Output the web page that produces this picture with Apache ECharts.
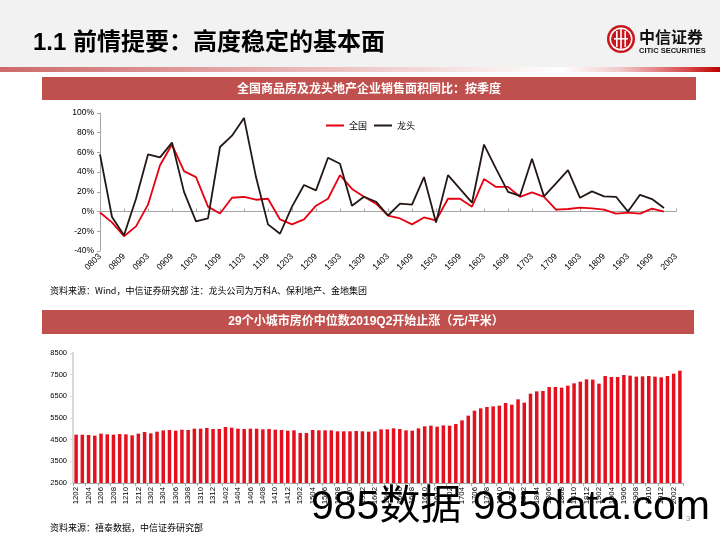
<!DOCTYPE html>
<html><head><meta charset="utf-8">
<script src="https://cdn.jsdelivr.net/npm/echarts@6/dist/echarts.min.js"></script>
<style>html,body{margin:0;padding:0;background:#fff}#c{width:720px;height:540px}</style>
</head><body><div id="c"></div>
<script>
// ---- Data ----
const quarters = ['0803','0806','0809','0812','0903','0906','0909','0912','1003','1006','1009','1012',
  '1103','1106','1109','1112','1203','1206','1209','1212','1303','1306','1309','1312',
  '1403','1406','1409','1412','1503','1506','1509','1512','1603','1606','1609','1612',
  '1703','1706','1709','1712','1803','1806','1809','1812','1903','1906','1909','1912','2003'];
const nationalYoY = [-1,-11,-25,-15,7,47,68,41,35,5,-2,14,
  15,12,13,-8,-13,-8,6,13,37,23,15,8,
  -4,-7,-13,-6,-9,13,13,5,33,25,25,15,
  19.5,15,2,2.6,4,3.3,2,-2,-1,-2,3,0,null];
const leadersYoY = [58,-5.5,-24,13,58,55,70,20,-10,-7,65.5,77,
  95,35,-13,-22.5,5,27,21.5,54.6,48.5,6,15,10,
  -4,8,7,35,-11,37,23,9,68,43.5,20,16,
  53.6,15.4,28.6,42,14,20.5,15.4,15,0,17,12.7,3.6,null];
const months = ['1202','1203','1204','1205','1206','1207','1208','1209','1210','1211','1212',
  '1301','1302','1303','1304','1305','1306','1307','1308','1309','1310','1311','1312',
  '1401','1402','1403','1404','1405','1406','1407','1408','1409','1410','1411','1412',
  '1501','1502','1503','1504','1505','1506','1507','1508','1509','1510','1511','1512',
  '1601','1602','1603','1604','1605','1606','1607','1608','1609','1610','1611','1612',
  '1701','1702','1703','1704','1705','1706','1707','1708','1709','1710','1711','1712',
  '1801','1802','1803','1804','1805','1806','1807','1808','1809','1810','1811','1812',
  '1901','1902','1903','1904','1905','1906','1907','1908','1909','1910','1911','1912',
  '2001','2002','2003'];
const medianPrice = [4730,4730,4715,4685,4777,4746,4730,4760,4746,4700,4777,4854,4792,4869,4930,4946,4915,
  4960,4946,5008,5008,5040,4992,4992,5085,5054,5008,4992,5008,5008,4977,4992,4960,
  4946,4915,4930,4808,4808,4946,4930,4930,4930,4885,4885,4885,4900,4885,4870,4885,4977,
  4977,5023,4992,4930,4915,5023,5115,5146,5100,5160,5146,5223,5392,5608,5838,5946,
  6008,6038,6070,6192,6115,6362,6208,6623,6730,6746,6930,6930,6900,6992,7100,7177,
  7285,7270,7085,7438,7392,7392,7485,7454,7408,7423,7438,7408,7377,7438,7546,7685];
const barYTicks = [2500,3500,4500,5500,6500,7500,8500];
const seriesNames = ['全国','龙头'];

// ---- Chart ----
const FONT = '"Liberation Sans","Noto Sans CJK SC",sans-serif';
const CJK = '"Noto Sans CJK SC","Liberation Sans",sans-serif';
const chart = echarts.init(document.getElementById('c'));
const AX = '#A6A6A6';
const option = {
  animation: false,
  backgroundColor: '#ffffff',
  textStyle: {fontFamily: FONT},
  grid: [
    {left: 100, top: 113, width: 576, height: 138},
    {left: 73, top: 353, width: 610, height: 130}
  ],
  legend: {
    data: seriesNames, left: 326, top: 121, padding: 0,
    icon: 'rect', itemWidth: 18, itemHeight: 2, itemGap: 7,
    textStyle: {fontSize: 9, color: '#000', fontFamily: CJK}
  },
  xAxis: [
    {gridIndex: 0, type: 'category', data: quarters, boundaryGap: false,
     axisLine: {show: false, onZero: false}, axisTick: {show: false},
     axisLabel: {interval: 1, rotate: 45, fontSize: 8.8, color: '#000', margin: 4}},
    {gridIndex: 0, type: 'category', data: quarters, boundaryGap: false,
     axisLine: {show: true, onZero: true, onZeroAxisIndex: 0, lineStyle: {color: AX, width: 1}},
     axisTick: {show: true, interval: 1, length: 3, lineStyle: {color: AX}},
     axisLabel: {show: false}},
    {gridIndex: 1, type: 'category', data: months,
     axisLine: {lineStyle: {color: AX, width: 1}},
     axisTick: {show: true, interval: 1, length: 3, lineStyle: {color: AX}},
     axisLabel: {interval: 1, rotate: 90, fontSize: 7.8, color: '#000', margin: 4}}
  ],
  yAxis: [
    {gridIndex: 0, type: 'value', min: -40, max: 100, interval: 20,
     axisLabel: {formatter: '{value}%', fontSize: 8.5, color: '#000', margin: 6},
     axisLine: {show: true, lineStyle: {color: AX}},
     axisTick: {show: true, length: 3, lineStyle: {color: AX}},
     splitLine: {show: false}},
    {gridIndex: 1, type: 'value', min: 2500, max: 8500, interval: 500,
     axisLabel: {customValues: barYTicks, fontSize: 7.5, color: '#000', margin: 6,
       formatter: v => ((v - 2500) % 1000 === 0 ? String(v) : '')},
     axisLine: {show: true, lineStyle: {color: '#D9D9D9', width: 2}},
     axisTick: {show: true, customValues: barYTicks, length: 3, lineStyle: {color: '#D9D9D9'}},
     splitLine: {show: false}}
  ],
  series: [
    {name: '全国', type: 'line', xAxisIndex: 0, yAxisIndex: 0, data: nationalYoY,
     symbol: 'none', lineStyle: {color: '#E60012', width: 1.8}, itemStyle: {color: '#E60012'}},
    {name: '龙头', type: 'line', xAxisIndex: 0, yAxisIndex: 0, data: leadersYoY,
     symbol: 'none', lineStyle: {color: '#231815', width: 1.8}, itemStyle: {color: '#231815'}},
    {type: 'bar', xAxisIndex: 2, yAxisIndex: 1, data: medianPrice, barWidth: 3.5,
     itemStyle: {color: '#E3101E'}}
  ],
  graphic: [
    {type: 'rect', z: -10, shape: {x: 0, y: 0, width: 720, height: 67}, style: {fill: '#F2F2F2'}},
    {type: 'rect', shape: {x: 0, y: 67, width: 720, height: 5},
     style: {fill: new echarts.graphic.LinearGradient(0, 0, 1, 0, [
       {offset: 0, color: '#CD6A6A'}, {offset: 0.35, color: '#E6AAAA'},
       {offset: 0.78, color: '#FFFFFF'}, {offset: 0.86, color: '#F2CACA'},
       {offset: 0.95, color: '#D85050'}, {offset: 1, color: '#C00000'}])}},
    {type: 'text', x: 33, y: 43, style: {text: '1.1 前情提要：高度稳定的基本面', fontSize: 24, fontWeight: 'bold',
      fontFamily: FONT, fill: '#000', verticalAlign: 'middle'}},
    // logo
    {type: 'circle', shape: {cx: 621, cy: 39, r: 14}, style: {fill: '#C8161D'}},
    {type: 'circle', shape: {cx: 621, cy: 39, r: 11.5}, style: {fill: '#FFFFFF'}},
    {type: 'circle', shape: {cx: 621, cy: 39, r: 10}, style: {fill: '#C8161D'}},
    {type: 'rect', shape: {x: 616, y: 31, width: 1.6, height: 16}, style: {fill: '#FFFFFF'}},
    {type: 'rect', shape: {x: 620.2, y: 29, width: 1.6, height: 20}, style: {fill: '#FFFFFF'}},
    {type: 'rect', shape: {x: 624.4, y: 31, width: 1.6, height: 16}, style: {fill: '#FFFFFF'}},
    {type: 'rect', shape: {x: 614, y: 38, width: 14, height: 1.6}, style: {fill: '#FFFFFF'}},
    {type: 'text', x: 639, y: 37, style: {text: '中信证券', fontSize: 16, fontWeight: 'bold', fontFamily: CJK,
      fill: '#111', verticalAlign: 'middle'}},
    {type: 'text', x: 639, y: 50.5, style: {text: 'CITIC SECURITIES', fontSize: 7.5, fontWeight: 'bold',
      fontFamily: '"Liberation Sans Narrow","Liberation Sans",sans-serif', fill: '#111', verticalAlign: 'middle'}},
    // section headers
    {type: 'rect', shape: {x: 42, y: 77, width: 654, height: 23}, style: {fill: '#C0504D'}},
    {type: 'text', x: 369, y: 88.5, style: {text: '全国商品房及龙头地产企业销售面积同比：按季度', fontSize: 12, fontWeight: 'bold',
      fontFamily: CJK, fill: '#fff', align: 'center', verticalAlign: 'middle'}},
    {type: 'text', x: 50, y: 291, style: {text: '资料来源：Wind，中信证券研究部 注：龙头公司为万科A、保利地产、金地集团', fontSize: 9,
      fontFamily: CJK, fill: '#000', verticalAlign: 'middle'}},
    {type: 'rect', shape: {x: 42, y: 310, width: 652, height: 24}, style: {fill: '#C0504D'}},
    {type: 'text', x: 366, y: 322, style: {text: '29个小城市房价中位数2019Q2开始止涨（元/平米）', fontSize: 12, fontWeight: 'bold',
      fontFamily: FONT, fill: '#fff', align: 'center', verticalAlign: 'middle'}},
    {type: 'text', x: 50, y: 528, style: {text: '资料来源：禧泰数据，中信证券研究部', fontSize: 9,
      fontFamily: CJK, fill: '#000', verticalAlign: 'middle'}},
    {type: 'text', x: 686, y: 519, style: {text: '3', fontSize: 8, fontFamily: FONT, fill: '#999', verticalAlign: 'middle'}},
    {type: 'text', z: 100, x: 311, y: 508, style: {text: '985数据 985data.com', fontSize: 41,
      fontFamily: FONT, fill: '#000', verticalAlign: 'middle'}}
  ]
};
chart.setOption(option);
</script>
</body></html>
